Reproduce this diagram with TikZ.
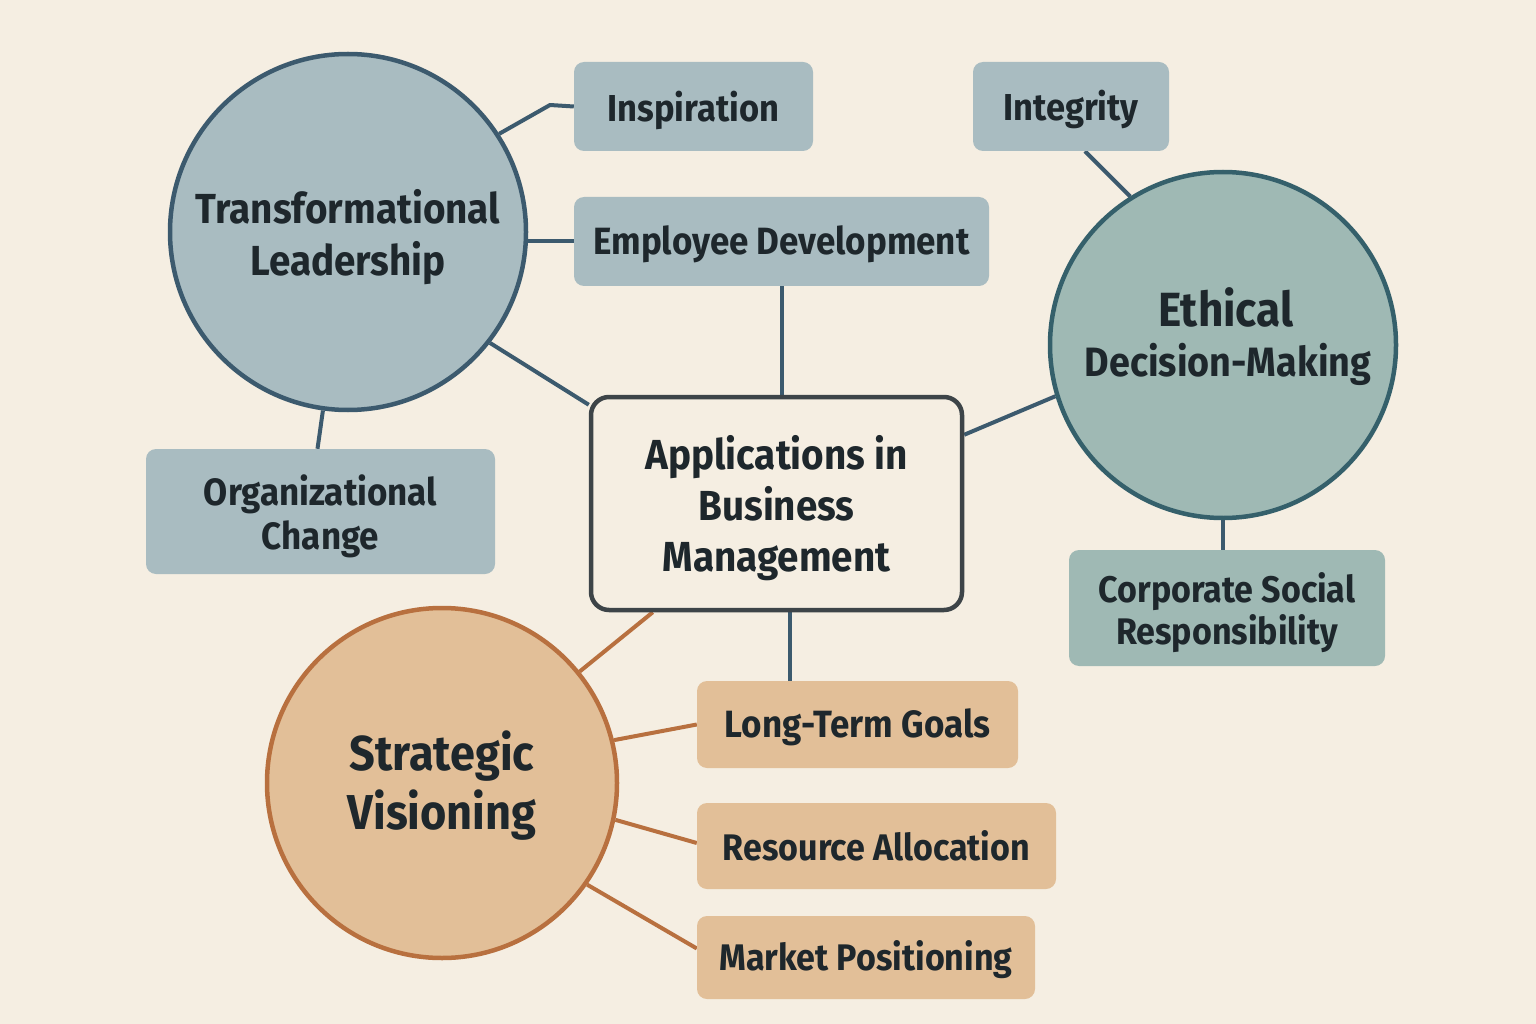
\documentclass[tikz,border=0pt]{standalone}
\usepackage{fontspec}
\setmainfont{Fira Sans}[FakeStretch=0.92]
\usetikzlibrary{backgrounds,calc}
\definecolor{bgc}{HTML}{F5EEE2}
\definecolor{tlfill}{HTML}{A9BCC1}
\definecolor{tlline}{HTML}{3C5A6E}
\definecolor{ethfill}{HTML}{9FB9B4}
\definecolor{ethline}{HTML}{35606B}
\definecolor{svfill}{HTML}{E2BF98}
\definecolor{svline}{HTML}{B8703F}
\definecolor{cbline}{HTML}{3D4448}
\definecolor{txt}{HTML}{1E272C}
\tikzset{
  hub/.style={circle, draw, line width=4.5pt, inner sep=0pt},
  leaf/.style={rectangle, rounded corners=10pt, inner sep=0pt},
  tx/.style={text=txt, align=center, inner sep=0pt},
  fs/.style 2 args={font=\bfseries\fontsize{#1}{#2}\selectfont},
  link/.style={line width=4pt, tlline},
  olink/.style={line width=4pt, svline},
}
\begin{document}
\begin{tikzpicture}[x=1pt,y=-1pt]
\useasboundingbox (0,0) rectangle (1536,1024);
% hubs
\node[hub, fill=tlfill, draw=tlline, minimum size=356pt] (tl) at (348,232) {};
\node[tx, fs={42}{52}] (tltxt) at ($(tl)+(0,5)$) {Transformational\\Leadership};
\node[hub, fill=ethfill, draw=ethline, minimum size=346pt] (eth) at (1223,345) {};
\node[tx, fs={48}{55}] (ethtxt1) at (1226,307) {Ethical};
\node[tx, fs={41}{50}] (ethtxt2) at (1228,364) {Decision-Making};
\node[hub, fill=svfill, draw=svline, minimum size=350pt] (sv) at (442,783) {};
\node[tx, fs={49}{59}] (svtxt) at ($(sv)+(0,3)$) {Strategic\\Visioning};
\node[rectangle, rounded corners=18pt, draw=cbline, line width=4.5pt, fill=bgc,
  minimum width=371pt, minimum height=213pt] (cb) at (776.5,503.5) {};
\node[tx, fs={42}{51}] (cbtxt) at ($(cb)+(0,5)$) {Applications in\\Business\\Management};
% leaves
\node[leaf, fill=tlfill, minimum width=239pt, minimum height=89pt] (insp) at (693.5,106.5) {};
\node[tx, fs={37.5}{44}] (insptxt) at ($(insp)+(0,4)$) {Inspiration};
\node[leaf, fill=tlfill, minimum width=415pt, minimum height=89pt] (emp) at (781.5,241.5) {};
\node[tx, fs={38}{44}] (emptxt) at ($(emp)+(0,3)$) {Employee Development};
\node[leaf, fill=tlfill, minimum width=349pt, minimum height=125pt] (org) at (320.5,511.5) {};
\node[tx, fs={38}{44}] (orgtxt) at ($(org)+(0,5)$) {Organizational\\Change};
\node[leaf, fill=tlfill, minimum width=196pt, minimum height=89pt] (integ) at (1071,106.5) {};
\node[tx, fs={37.5}{44}] (integtxt) at ($(integ)+(0,3)$) {Integrity};
\node[leaf, fill=ethfill, minimum width=316pt, minimum height=116pt] (csr) at (1227,608) {};
\node[tx, fs={37}{42}] (csrtxt) at ($(csr)+(0,5)$) {Corporate Social\\Responsibility};
\node[leaf, fill=svfill, minimum width=321pt, minimum height=87pt] (ltg) at (857.5,724.5) {};
\node[tx, fs={38}{44}] (ltgtxt) at ($(ltg)+(0,3)$) {Long-Term Goals};
\node[leaf, fill=svfill, minimum width=359pt, minimum height=86pt] (ra) at (876.5,846) {};
\node[tx, fs={37}{44}] (ratxt) at ($(ra)+(0,0)$) {Resource Allocation};
\node[leaf, fill=svfill, minimum width=338pt, minimum height=83pt] (mp) at (866,957.5) {};
\node[tx, fs={37}{44}] (mptxt) at ($(mp)+(0,2)$) {Market Positioning};
\coordinate (k1) at (550,105);
\begin{pgfonlayer}{background}
\fill[bgc] (0,0) rectangle (1536,1024);
\draw[link, line join=round] (tl.33) -- (k1) -- (insp.west);
\draw[link] (emp.west) -- (emp.west -| tl.center);
\draw[link] (tl.-38) -- ($(cb.north west)+(0,10)$);
\draw[link] (tl.-98) -- ($(org.north)+(-3,0)$);
\draw[link] (emp.south) -- (emp.south |- cb.north);
\draw[link] ($(integ.south)+(14,0)$) -- (eth.122);
\draw[link] ($(cb.north east)+(0,40)$) -- (eth.197);
\draw[link] (eth.south) -- (eth.south |- csr.north);
\draw[link] ($(cb.south)+(13,0)$) -- ($(cb.south |- ltg.north)+(13,0)$);
\draw[olink] ($(cb.south west)+(64,0)$) -- (sv.39);
\draw[olink] (sv.14) -- (ltg.west);
\draw[olink] (sv.-12) -- ($(ra.west)+(0,-3)$);
\draw[olink] (sv.-35) -- ($(mp.west)+(0,-9)$);
\end{pgfonlayer}
\end{tikzpicture}
\end{document}
